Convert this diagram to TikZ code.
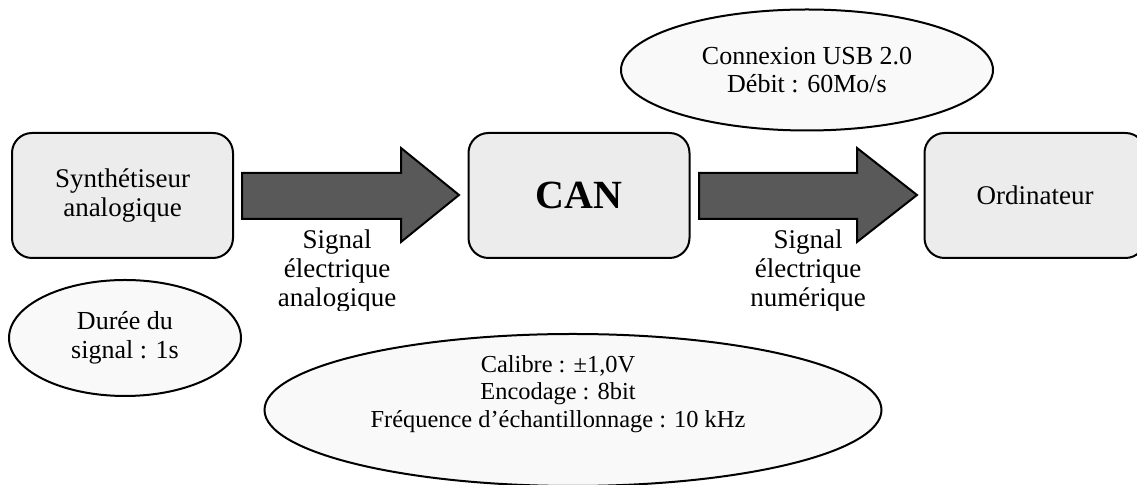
\documentclass[tikz,border=0pt]{standalone}
\usepackage{fontspec}
\setmainfont{Liberation Serif}
\usetikzlibrary{shapes.geometric}

\tikzset{
	block/.style={rectangle, draw=black, fill=gray!15, line width=1pt, rounded corners=10pt, minimum width=110.5pt, minimum height=62.5pt, align=center, font=\fontsize{13.5}{14.4}\selectfont},
	bubble/.style={ellipse, draw=black, fill=gray!5, line width=1pt, inner sep=0pt, align=center, font=\fontsize{13}{14.4}\selectfont},
	bigArrow/.style={draw=black, fill=black!65, line width=1pt, line join=miter},
	signalText/.style={align=center, inner sep=0pt, font=\fontsize{13.5}{14.4}\selectfont}
}

\begin{document}
\begin{tikzpicture}[x=0.5pt, y=-0.5pt]
	\clip (0,0) rectangle (1137,485);

	% chain of blocks
	\node[block](synth) at (122.5,195.5){Synth\'etiseur\\analogique};
	\node[block, font=\fontsize{20}{22}\selectfont\bfseries](can) at (579,195.5){CAN};
	\node[block](ordi) at (1035,195.5){Ordinateur};

	% big arrows
	\draw[bigArrow] (242,173) -- (401,173) -- (401,148) -- (459,195) -- (401,242) -- (401,219) -- (242,219) -- cycle;
	\draw[bigArrow] (699,173) -- (857,173) -- (857,148) -- (917,195) -- (857,242) -- (857,219) -- (699,219) -- cycle;

	% labels under the arrows
	\begin{scope}
		\clip (200,222) rectangle (920,311);
		\node[signalText](signalAna) at (337,271){Signal\\\'electrique\\analogique};
		\node[signalText](signalNum) at (808,271){Signal\\\'electrique\\num\'erique};
	\end{scope}

	% parameter bubbles
	\node[bubble, minimum width=186pt, minimum height=60.5pt](usb) at (807,70){Connexion USB 2.0\\D\'ebit : 60Mo/s};
	\node[bubble, minimum width=116pt, minimum height=58pt](duree) at (125,338){Dur\'ee du\\signal : 1s};
	\node[bubble, minimum width=308.5pt, minimum height=76pt](canParams) at (573,410){};
	\node[signalText, font=\fontsize{12.2}{13.9}\selectfont](canParamsText) at (558,394){Calibre : ±1,0V\\Encodage : 8bit\\Fr\'equence d’\'echantillonnage : 10 kHz};
\end{tikzpicture}
\end{document}
